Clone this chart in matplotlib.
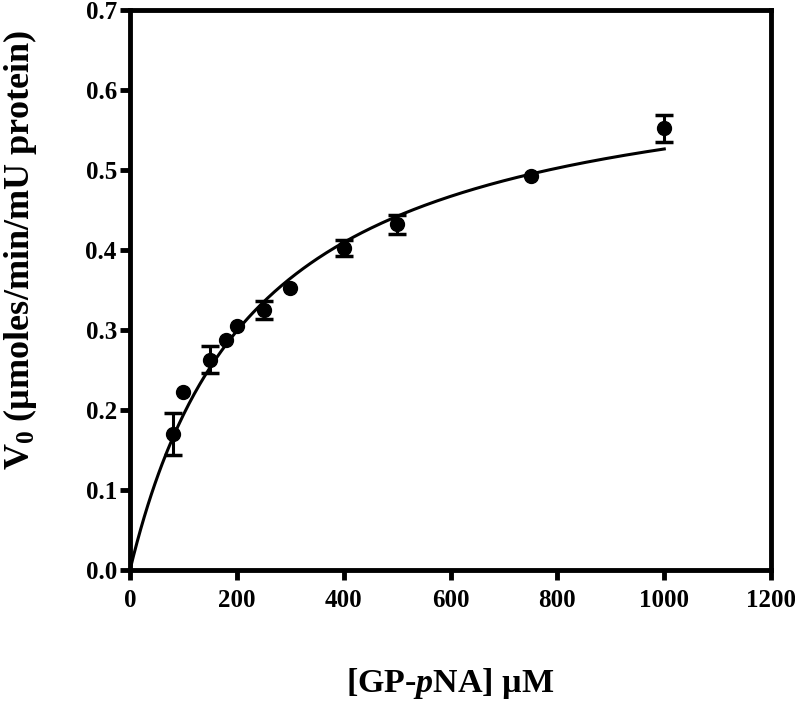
import matplotlib
matplotlib.use("Agg")
import numpy as np
import matplotlib.pyplot as plt

# substrate concentrations (uM) and initial rates
conc = [80, 100, 150, 180, 200, 250, 300, 400, 500, 750, 1000]
rate = [0.170, 0.223, 0.263, 0.287, 0.305, 0.325, 0.352, 0.402, 0.432, 0.493, 0.552]
err = [0.026, 0.0, 0.017, 0.0, 0.0, 0.011, 0.0, 0.010, 0.012, 0.0, 0.017]

# Michaelis-Menten fit
vmax = 0.650
km = 235.0

x_ticks = [0, 200, 400, 600, 800, 1000, 1200]
y_ticks = [0.0, 0.1, 0.2, 0.3, 0.4, 0.5, 0.6, 0.7]

plt.rcParams['font.family'] = ['Liberation Serif', 'DejaVu Serif']
plt.rcParams['font.weight'] = 'bold'
plt.rcParams['mathtext.fontset'] = 'custom'
plt.rcParams['mathtext.rm'] = 'Liberation Serif:bold'
plt.rcParams['mathtext.it'] = 'Liberation Serif:bold:italic'
plt.rcParams['mathtext.bf'] = 'Liberation Serif:bold'

fig = plt.figure(figsize=(7.95, 7.01), dpi=100)
ax = fig.add_axes([0.1635, 0.1869, 0.8065, 0.7988])

xs = np.linspace(0, 1000, 300)
ax.plot(xs, vmax * xs / (km + xs), color='black', lw=2.2, zorder=2)

# points, with error bars only where there is a spread
ax.plot(conc, rate, 'o', color='black', ms=10, zorder=3)
xe = [c for c, e in zip(conc, err) if e > 0]
ye = [r for r, e in zip(rate, err) if e > 0]
ee = [e for e in err if e > 0]
ax.errorbar(xe, ye, yerr=ee, fmt='none', ecolor='black', elinewidth=2.2,
            capsize=6.5, capthick=2.5, zorder=3)

ax.set_xlim(0, 1200)
ax.set_ylim(0, 0.7)
ax.set_xticks(x_ticks)
ax.set_yticks(y_ticks)
ax.set_yticklabels(['%.1f' % v for v in y_ticks])

for s in ax.spines.values():
    s.set_linewidth(3.5)
    s.set_capstyle('projecting')
ax.tick_params(direction='out', length=7.5, width=3.5, labelsize=18)
ax.tick_params(axis='x', pad=6)
ax.tick_params(axis='y', pad=2)
ax.tick_params(top=False, right=False)
for lab in ax.get_xticklabels() + ax.get_yticklabels():
    lab.set_fontweight('bold')

ax.set_xlabel(r'[GP-$\mathit{p}$NA] µM', fontsize=24.5, fontweight='bold')
ax.set_ylabel(r'V$_0$ (µmoles/min/mU protein)', fontsize=26, fontweight='bold')
ax.xaxis.set_label_coords(0.5, -0.172)
ax.yaxis.set_label_coords(-0.142, 0.571)

plt.savefig('out.png', dpi=100)
